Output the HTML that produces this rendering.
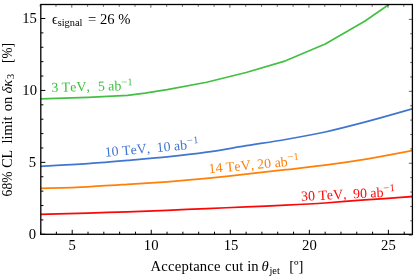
<!DOCTYPE html>
<html><head><meta charset="utf-8"><title>plot</title>
<style>
html,body{margin:0;padding:0;background:#fff;}
body{width:418px;height:280px;overflow:hidden;font-family:"Liberation Serif",serif;}
svg{display:block;will-change:transform;font-family:"Liberation Serif",serif;}
text{font-family:"Liberation Serif",serif;font-kerning:none;}
</style></head><body>
<svg width="418" height="280" viewBox="0 0 418 280">
<rect width="418" height="280" fill="#fff"/>
<defs><clipPath id="c"><rect x="40.8" y="4.5" width="371.59999999999997" height="229.8"/></clipPath></defs>
<g clip-path="url(#c)" fill="none" stroke-width="1.75" stroke-linejoin="round">
<polyline stroke="#43c043" points="9.0,100.00 48.5,98.70 88.0,97.35 127.5,95.35 145.0,93.20 167.1,89.70 206.6,82.25 246.1,72.50 285.6,60.80 325.2,44.00 364.7,21.30 404.2,-6.10 443.7,-39.00"/>
<path stroke="#4076d0" d="M9.0,167.50 C14.3,167.29 38.0,166.41 48.5,165.90 C59.0,165.39 77.5,164.43 88.0,163.70 C98.5,162.97 117.0,161.31 127.5,160.40 C138.0,159.49 156.6,157.99 167.1,156.90 C177.6,155.81 196.1,153.69 206.6,152.20 C217.1,150.71 235.6,147.39 246.1,145.70 C256.6,144.01 275.1,141.33 285.6,139.50 C296.1,137.67 314.7,134.31 325.2,132.00 C335.7,129.69 354.2,124.97 364.7,122.20 C375.2,119.43 393.7,114.24 404.2,111.20 C414.7,108.16 438.4,100.97 443.7,99.40"/>
<path stroke="#ff8008" d="M9.0,189.10 C14.3,188.98 38.0,188.51 48.5,188.20 C59.0,187.89 77.5,187.31 88.0,186.80 C98.5,186.29 117.0,185.07 127.5,184.40 C138.0,183.73 156.6,182.60 167.1,181.80 C177.6,181.00 196.1,179.41 206.6,178.40 C217.1,177.39 235.6,175.36 246.1,174.20 C256.6,173.04 275.1,170.91 285.6,169.70 C296.1,168.49 314.7,166.49 325.2,165.10 C335.7,163.71 354.2,161.02 364.7,159.30 C375.2,157.58 393.7,154.21 404.2,152.20 C414.7,150.19 438.4,145.27 443.7,144.20"/>
<path stroke="#fa0808" d="M9.0,215.00 C14.3,214.88 38.0,214.35 48.5,214.10 C59.0,213.85 77.5,213.41 88.0,213.10 C98.5,212.79 117.0,212.17 127.5,211.80 C138.0,211.43 156.6,210.73 167.1,210.30 C177.6,209.87 196.1,209.05 206.6,208.60 C217.1,208.15 235.6,207.35 246.1,206.90 C256.6,206.45 275.1,205.72 285.6,205.20 C296.1,204.68 314.7,203.71 325.2,203.00 C335.7,202.29 354.2,200.67 364.7,199.90 C375.2,199.13 393.7,197.99 404.2,197.20 C414.7,196.41 438.4,194.43 443.7,194.00"/>
</g>
<g stroke="#000" stroke-width="1"><line x1="40.58" y1="234.3" x2="40.58" y2="231.70000000000002"/><line x1="56.39" y1="234.3" x2="56.39" y2="231.70000000000002"/><line x1="72.20" y1="234.3" x2="72.20" y2="229.8"/><line x1="88.01" y1="234.3" x2="88.01" y2="231.70000000000002"/><line x1="103.82" y1="234.3" x2="103.82" y2="231.70000000000002"/><line x1="119.63" y1="234.3" x2="119.63" y2="231.70000000000002"/><line x1="135.44" y1="234.3" x2="135.44" y2="231.70000000000002"/><line x1="151.25" y1="234.3" x2="151.25" y2="229.8"/><line x1="167.06" y1="234.3" x2="167.06" y2="231.70000000000002"/><line x1="182.87" y1="234.3" x2="182.87" y2="231.70000000000002"/><line x1="198.68" y1="234.3" x2="198.68" y2="231.70000000000002"/><line x1="214.49" y1="234.3" x2="214.49" y2="231.70000000000002"/><line x1="230.30" y1="234.3" x2="230.30" y2="229.8"/><line x1="246.11" y1="234.3" x2="246.11" y2="231.70000000000002"/><line x1="261.92" y1="234.3" x2="261.92" y2="231.70000000000002"/><line x1="277.73" y1="234.3" x2="277.73" y2="231.70000000000002"/><line x1="293.54" y1="234.3" x2="293.54" y2="231.70000000000002"/><line x1="309.35" y1="234.3" x2="309.35" y2="229.8"/><line x1="325.16" y1="234.3" x2="325.16" y2="231.70000000000002"/><line x1="340.97" y1="234.3" x2="340.97" y2="231.70000000000002"/><line x1="356.78" y1="234.3" x2="356.78" y2="231.70000000000002"/><line x1="372.59" y1="234.3" x2="372.59" y2="231.70000000000002"/><line x1="388.40" y1="234.3" x2="388.40" y2="229.8"/><line x1="404.21" y1="234.3" x2="404.21" y2="231.70000000000002"/><line x1="40.8" y1="234.30" x2="45.3" y2="234.30"/><line x1="40.8" y1="219.91" x2="43.4" y2="219.91"/><line x1="40.8" y1="205.53" x2="43.4" y2="205.53"/><line x1="40.8" y1="191.14" x2="43.4" y2="191.14"/><line x1="40.8" y1="176.75" x2="43.4" y2="176.75"/><line x1="40.8" y1="162.37" x2="45.3" y2="162.37"/><line x1="40.8" y1="147.98" x2="43.4" y2="147.98"/><line x1="40.8" y1="133.59" x2="43.4" y2="133.59"/><line x1="40.8" y1="119.20" x2="43.4" y2="119.20"/><line x1="40.8" y1="104.82" x2="43.4" y2="104.82"/><line x1="40.8" y1="90.43" x2="45.3" y2="90.43"/><line x1="40.8" y1="76.04" x2="43.4" y2="76.04"/><line x1="40.8" y1="61.66" x2="43.4" y2="61.66"/><line x1="40.8" y1="47.27" x2="43.4" y2="47.27"/><line x1="40.8" y1="32.88" x2="43.4" y2="32.88"/><line x1="40.8" y1="18.50" x2="45.3" y2="18.50"/></g>
<g stroke="#111" stroke-width="0.65"><line x1="40.18" y1="4.5" x2="40.18" y2="6.7"/><line x1="55.99" y1="4.5" x2="55.99" y2="6.7"/><line x1="71.80" y1="4.5" x2="71.80" y2="7.7"/><line x1="87.61" y1="4.5" x2="87.61" y2="6.7"/><line x1="103.42" y1="4.5" x2="103.42" y2="6.7"/><line x1="119.23" y1="4.5" x2="119.23" y2="6.7"/><line x1="135.04" y1="4.5" x2="135.04" y2="6.7"/><line x1="150.85" y1="4.5" x2="150.85" y2="7.7"/><line x1="166.66" y1="4.5" x2="166.66" y2="6.7"/><line x1="182.47" y1="4.5" x2="182.47" y2="6.7"/><line x1="198.28" y1="4.5" x2="198.28" y2="6.7"/><line x1="214.09" y1="4.5" x2="214.09" y2="6.7"/><line x1="229.90" y1="4.5" x2="229.90" y2="7.7"/><line x1="245.71" y1="4.5" x2="245.71" y2="6.7"/><line x1="261.52" y1="4.5" x2="261.52" y2="6.7"/><line x1="277.33" y1="4.5" x2="277.33" y2="6.7"/><line x1="293.14" y1="4.5" x2="293.14" y2="6.7"/><line x1="308.95" y1="4.5" x2="308.95" y2="7.7"/><line x1="324.76" y1="4.5" x2="324.76" y2="6.7"/><line x1="340.57" y1="4.5" x2="340.57" y2="6.7"/><line x1="356.38" y1="4.5" x2="356.38" y2="6.7"/><line x1="372.19" y1="4.5" x2="372.19" y2="6.7"/><line x1="388.00" y1="4.5" x2="388.00" y2="7.7"/><line x1="403.81" y1="4.5" x2="403.81" y2="6.7"/><line x1="412.4" y1="235.20" x2="408.79999999999995" y2="235.20"/><line x1="412.4" y1="220.81" x2="410.2" y2="220.81"/><line x1="412.4" y1="206.43" x2="410.2" y2="206.43"/><line x1="412.4" y1="192.04" x2="410.2" y2="192.04"/><line x1="412.4" y1="177.65" x2="410.2" y2="177.65"/><line x1="412.4" y1="163.27" x2="408.79999999999995" y2="163.27"/><line x1="412.4" y1="148.88" x2="410.2" y2="148.88"/><line x1="412.4" y1="134.49" x2="410.2" y2="134.49"/><line x1="412.4" y1="120.10" x2="410.2" y2="120.10"/><line x1="412.4" y1="105.72" x2="410.2" y2="105.72"/><line x1="412.4" y1="91.33" x2="408.79999999999995" y2="91.33"/><line x1="412.4" y1="76.94" x2="410.2" y2="76.94"/><line x1="412.4" y1="62.56" x2="410.2" y2="62.56"/><line x1="412.4" y1="48.17" x2="410.2" y2="48.17"/><line x1="412.4" y1="33.78" x2="410.2" y2="33.78"/><line x1="412.4" y1="19.40" x2="408.79999999999995" y2="19.40"/></g>
<rect x="40.8" y="4.5" width="371.59999999999997" height="229.8" fill="none" stroke="#000" stroke-width="1.3"/>
<g font-size="14.67" fill="#000"><text x="72.2" y="250" text-anchor="middle">5</text><text x="151.2" y="250" text-anchor="middle">10</text><text x="231.1" y="250" text-anchor="middle">15</text><text x="309.4" y="250" text-anchor="middle">20</text><text x="388.4" y="250" text-anchor="middle">25</text><text x="36.1" y="239.0" text-anchor="end">0</text><text x="36.2" y="167.1" text-anchor="end">5</text><text x="37.0" y="95.1" text-anchor="end">10</text><text x="36.8" y="23.2" text-anchor="end">15</text></g>
<g font-size="14.67" fill="#000">
<text x="150.6" y="271.1" textLength="69.9">Acceptance</text>
<text x="225.1" y="271.1" textLength="33.6">cut in</text>
<text x="261.6" y="271.1" font-style="italic">θ</text>
<text x="269.4" y="273.6" font-size="10.4">jet</text>
<text x="289.2" y="271.1">[º]</text>
</g>
<g font-size="14.67" fill="#000" transform="translate(12.2,196.4) rotate(-90)">
<text x="0" y="0" textLength="24.9" lengthAdjust="spacingAndGlyphs">68%</text>
<text x="28.6" y="0" textLength="17.95" lengthAdjust="spacingAndGlyphs">CL</text>
<text x="53.0" y="0" textLength="26.9" lengthAdjust="spacingAndGlyphs">limit</text>
<text x="85.2" y="0">on</text>
<text x="102.8" y="0" font-style="italic">δκ</text>
<text x="117.4" y="2.2" font-size="10.4">3</text>
<text x="133.4" y="0" textLength="19.8" lengthAdjust="spacingAndGlyphs">[%]</text>
</g>
<g font-size="14.67" fill="#000">
<text x="52" y="23.9" font-size="14">ϵ</text>
<text x="57.7" y="26.2" font-size="10.4">signal</text>
<text x="88" y="24.1" xml:space="preserve">= 26 %</text>
</g>
<g transform="translate(51.4,91.9) rotate(-1.3)" font-size="13.9" fill="#3fc03f"><text x="0" y="0" xml:space="preserve">3 TeV,</text><text x="46.5" y="0" xml:space="preserve">5 ab</text><text x="69.9" y="-4.9" font-size="10.3" textLength="6.1" lengthAdjust="spacingAndGlyphs">−</text><text x="76.2" y="-4.9" font-size="10.3">1</text></g><g transform="translate(105.2,156.7) rotate(-5.1)" font-size="13.9" fill="#4076d0"><text x="0" y="0" xml:space="preserve">10 TeV,</text><text x="52" y="0" xml:space="preserve">10 ab</text><text x="82.7" y="-5.3" font-size="10.3" textLength="6.1" lengthAdjust="spacingAndGlyphs">−</text><text x="89.0" y="-5.3" font-size="10.3">1</text></g><g transform="translate(209.0,173.2) rotate(-5.1)" font-size="13.9" fill="#ff8008"><text x="0" y="0" xml:space="preserve">14 TeV,</text><text x="48.8" y="0" xml:space="preserve">20 ab</text><text x="79.2" y="-5.6" font-size="10.3" textLength="6.1" lengthAdjust="spacingAndGlyphs">−</text><text x="85.5" y="-5.6" font-size="10.3">1</text></g><g transform="translate(301.3,200.8) rotate(-2.7)" font-size="13.9" fill="#fa0808"><text x="0" y="0" xml:space="preserve">30 TeV,</text><text x="52" y="0" xml:space="preserve">90 ab</text><text x="82.4" y="-5.5" font-size="10.3" textLength="6.1" lengthAdjust="spacingAndGlyphs">−</text><text x="88.7" y="-5.5" font-size="10.3">1</text></g>
</svg>
</body></html>
